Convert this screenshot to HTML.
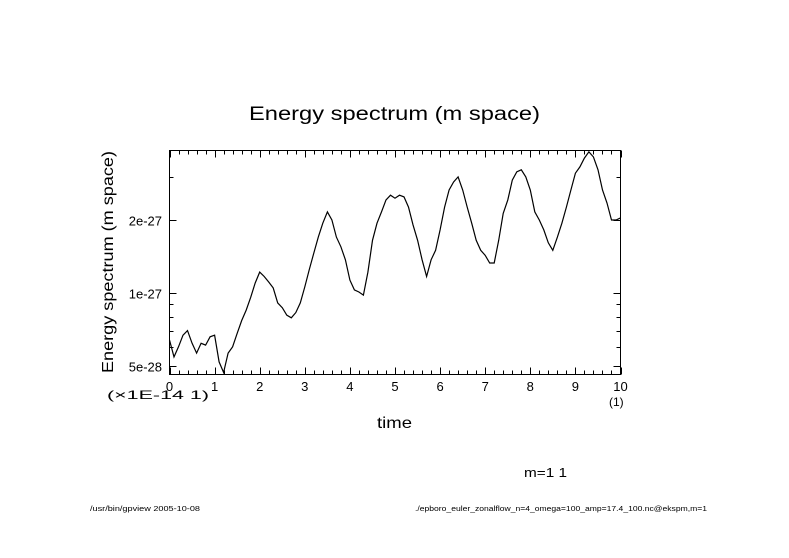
<!DOCTYPE html>
<html><head><meta charset="utf-8"><style>
html,body{margin:0;padding:0;background:#fff;}
svg{display:block;}
text{font-family:"Liberation Sans",sans-serif;fill:#000;}
</style></head><body>
<svg id="chart" width="789" height="558" viewBox="0 0 789 558" xmlns="http://www.w3.org/2000/svg">
<rect x="0" y="0" width="789" height="558" fill="#fff"/>
<text x="249" y="120" font-size="19" textLength="291" lengthAdjust="spacingAndGlyphs">Energy spectrum (m space)</text>
<rect x="169.5" y="150.5" width="451" height="224" fill="none" stroke="#000" stroke-width="1"/>
<g id="ticks"></g>
<g id="labels"></g>
<path id="series" fill="none" stroke="#000" stroke-width="1.2"/>
<text transform="translate(113,373) rotate(-90)" font-size="16" textLength="222" lengthAdjust="spacingAndGlyphs">Energy spectrum (m space)</text>
<text x="107" y="399" font-size="12" textLength="102" lengthAdjust="spacingAndGlyphs">(×1E-14 1)</text>
<text x="377" y="428" font-size="16" textLength="35" lengthAdjust="spacingAndGlyphs">time</text>
<text x="609" y="406" font-size="12">(1)</text>
<text x="524" y="477" font-size="13" textLength="43" lengthAdjust="spacingAndGlyphs">m=1 1</text>
<text x="90" y="511" font-size="7" textLength="110" lengthAdjust="spacingAndGlyphs">/usr/bin/gpview  2005-10-08</text>
<text x="415" y="511" font-size="7" textLength="292" lengthAdjust="spacingAndGlyphs">./epboro_euler_zonalflow_n=4_omega=100_amp=17.4_100.nc@ekspm,m=1</text>
</svg>
<script>
const times = [0,0.1,0.2,0.3,0.4,0.5,0.6,0.7,0.8,0.9,1.0,1.1,1.2,1.3,1.4,1.5,1.6,1.7,1.8,1.9,2.0,2.1,2.2,2.3,2.4,2.5,2.6,2.7,2.8,2.9,3.0,3.1,3.2,3.3,3.4,3.5,3.6,3.7,3.8,3.9,4.0,4.1,4.2,4.3,4.4,4.5,4.6,4.7,4.8,4.9,5.0,5.1,5.2,5.3,5.4,5.5,5.6,5.7,5.8,5.9,6.0,6.1,6.2,6.3,6.4,6.5,6.6,6.7,6.8,6.9,7.0,7.1,7.2,7.3,7.4,7.5,7.6,7.7,7.8,7.9,8.0,8.1,8.2,8.3,8.4,8.5,8.6,8.7,8.8,8.9,9.0,9.1,9.2,9.3,9.4,9.5,9.6,9.7,9.8,9.9,10.0];
// energy in units of 1e-27
const energy = [0.64,0.545,0.60,0.67,0.70,0.62,0.565,0.62,0.61,0.66,0.67,0.52,0.47,0.565,0.60,0.68,0.77,0.85,0.96,1.10,1.22,1.17,1.11,1.05,0.91,0.87,0.81,0.79,0.83,0.91,1.06,1.25,1.46,1.70,1.94,2.16,2.0,1.70,1.55,1.37,1.13,1.03,1.01,0.98,1.22,1.65,1.94,2.16,2.42,2.53,2.46,2.53,2.49,2.26,1.91,1.65,1.37,1.17,1.37,1.50,1.82,2.26,2.66,2.87,3.01,2.66,2.26,1.94,1.65,1.50,1.43,1.33,1.33,1.65,2.13,2.42,2.92,3.16,3.22,3.01,2.66,2.16,2.0,1.82,1.61,1.50,1.70,1.94,2.26,2.66,3.12,3.31,3.60,3.82,3.64,3.22,2.66,2.35,2.0,2.0,2.04];
const xTickLabels = ["0","1","2","3","4","5","6","7","8","9","10"];
const yMajorValues = [0.5,1,2];
const yMajorLabels = ["5e-28","1e-27","2e-27"];
const yMinorValues = [0.6,0.7,0.8,0.9,3];

const X0=169.5, X1=620.5, Y0=374.5, Y1=150.5;
const xS = t => X0 + (t-0)/(10-0)*(X1-X0);
const yS = v => 220 - Math.log2(v/2)*73;
const NS="http://www.w3.org/2000/svg";
const ticks=document.getElementById('ticks'), labels=document.getElementById('labels');
function line(x1,y1,x2,y2,name){const l=document.createElementNS(NS,'line');
l.setAttribute('x1',x1);l.setAttribute('y1',y1);l.setAttribute('x2',x2);l.setAttribute('y2',y2);
l.setAttribute('stroke','#000');l.setAttribute('stroke-width','1');


ticks.appendChild(l);}
function txt(x,y,s,anchor,size,name){const t=document.createElementNS(NS,'text');
t.setAttribute('x',x);t.setAttribute('y',y);t.setAttribute('text-anchor',anchor);t.setAttribute('font-size',size);t.textContent=s;


labels.appendChild(t);}
for(let i=0;i<=50;i++){const t=i*0.2;const x=Math.round(xS(t))+0.5;const L=(i%5===0)?7:4;
 line(x,Y0,x,Y0-L,'x-tick');line(x,Y1,x,Y1+L,'x-tick');}
xTickLabels.forEach((s,i)=>txt(xS(i),391,s,'middle',13,'x-tick-label'));
yMajorValues.forEach((v,i)=>{const y=Math.round(yS(v))+0.5;line(X0,y,X0+7,y,'y-tick');line(X1,y,X1-7,y,'y-tick');
 txt(162,y+5,yMajorLabels[i],'end',13,'y-tick-label');});
yMinorValues.forEach(v=>{const y=Math.round(yS(v))+0.5;line(X0,y,X0+4,y,'y-minor-tick');line(X1,y,X1-4,y,'y-minor-tick');});
let d='';times.forEach((t,i)=>{d+=(i?'L':'M')+xS(t).toFixed(1)+','+yS(energy[i]).toFixed(1);});
document.getElementById('series').setAttribute('d',d);
</script>
</body></html>
